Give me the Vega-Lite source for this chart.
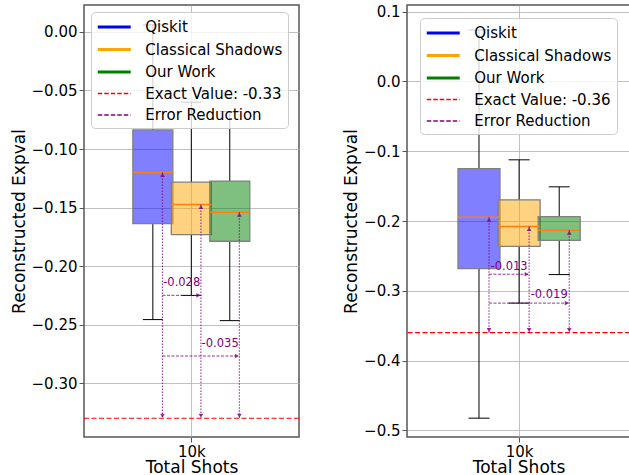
{
  "$schema": "https://vega.github.io/schema/vega-lite/v6.json",
  "padding": {"left": 9, "top": 3, "right": 0, "bottom": 0},
  "spacing": 108,
  "bounds": "flush",
  "datasets": {
    "lbox": [
      {"series": "Qiskit", "pos": -1, "ax": -0.75, "lo": -0.2457, "q1": -0.1637, "med": -0.12, "q3": -0.0837, "hi": 0.006},
      {"series": "Classical Shadows", "pos": 0, "ax": 0.25, "lo": -0.2251, "q1": -0.1731, "med": -0.1474, "q3": -0.1283, "hi": -0.06},
      {"series": "Our Work", "pos": 1, "ax": 1.25, "lo": -0.2466, "q1": -0.1788, "med": -0.154, "q3": -0.1274, "hi": -0.068}
    ],
    "lexact": [{"series": "Exact Value: -0.33", "value": -0.33}],
    "larrows": [
      {"label": "-0.028", "x1": -0.75, "x2": 0.25, "y": -0.225, "tx": -0.25, "ty": -0.2144},
      {"label": "-0.035", "x1": -0.75, "x2": 1.25, "y": -0.2768, "tx": 0.75, "ty": -0.2664}
    ],
    "rbox": [
      {"series": "Qiskit", "pos": -1, "ax": -0.75, "lo": -0.4826, "q1": -0.2682, "med": -0.1947, "q3": -0.1248, "hi": 0.0738},
      {"series": "Classical Shadows", "pos": 0, "ax": 0.25, "lo": -0.3177, "q1": -0.2363, "med": -0.208, "q3": -0.1697, "hi": -0.1123},
      {"series": "Our Work", "pos": 1, "ax": 1.25, "lo": -0.2768, "q1": -0.2277, "med": -0.2133, "q3": -0.1937, "hi": -0.151}
    ],
    "rexact": [{"series": "Exact Value: -0.36", "value": -0.36}],
    "rarrows": [
      {"label": "-0.013", "x1": -0.75, "x2": 0.25, "y": -0.2763, "tx": -0.25, "ty": -0.2663},
      {"label": "-0.019", "x1": -0.75, "x2": 1.25, "y": -0.3177, "tx": 0.75, "ty": -0.3067}
    ]
  },
  "hconcat": [
    {
      "width": 215,
      "height": 432,
      "layer": [
        {
          "data": {"name": "lbox"},
          "mark": {"type": "rule", "color": "black", "strokeWidth": 1},
          "encoding": {
            "x": {"field": "pos", "type": "quantitative", "scale": {"domain": [-2.66, 2.67], "nice": false, "zero": false}, "axis": {"values": [0], "labelExpr": "'10k'", "title": "Total Shots", "grid": true, "labelPadding": 2, "titlePadding": 0}},
            "y": {"field": "lo", "type": "quantitative", "scale": {"domain": [-0.346, 0.023], "nice": false, "zero": false}, "axis": {"values": [0, -0.05, -0.1, -0.15, -0.2, -0.25, -0.3], "format": ".2f", "title": "Reconstructed Expval", "grid": true}},
            "y2": {"field": "q1"}
          }
        },
        {
          "data": {"name": "lbox"},
          "mark": {"type": "rule", "color": "black", "strokeWidth": 1},
          "encoding": {
            "x": {"field": "pos", "type": "quantitative"},
            "y": {"field": "q3", "type": "quantitative"},
            "y2": {"field": "hi"}
          }
        },
        {
          "data": {"name": "lbox"},
          "mark": {"type": "tick", "orient": "horizontal", "size": 20, "thickness": 1, "color": "black", "opacity": 1},
          "encoding": {
            "x": {"field": "pos", "type": "quantitative"},
            "y": {"field": "lo", "type": "quantitative"}
          }
        },
        {
          "data": {"name": "lbox"},
          "mark": {"type": "tick", "orient": "horizontal", "size": 20, "thickness": 1, "color": "black", "opacity": 1},
          "encoding": {
            "x": {"field": "pos", "type": "quantitative"},
            "y": {"field": "hi", "type": "quantitative"}
          }
        },
        {
          "data": {"name": "lbox"},
          "mark": {"type": "bar", "size": 40, "fillOpacity": 0.5, "stroke": "#808080", "strokeWidth": 1.3},
          "encoding": {
            "x": {"field": "pos", "type": "quantitative"},
            "y": {"field": "q1", "type": "quantitative"},
            "y2": {"field": "q3"},
            "fill": {"field": "series", "type": "nominal", "scale": {"domain": ["Qiskit", "Classical Shadows", "Our Work"], "range": ["#0000ff", "#ffa500", "#008000"]}, "legend": null}
          }
        },
        {
          "data": {"name": "lbox"},
          "mark": {"type": "tick", "orient": "horizontal", "size": 40, "thickness": 1.5, "color": "#ff7f0e", "opacity": 1},
          "encoding": {
            "x": {"field": "pos", "type": "quantitative"},
            "y": {"field": "med", "type": "quantitative"}
          }
        },
        {
          "data": {"name": "lexact"},
          "mark": {"type": "rule", "color": "#ff0000", "strokeDash": [5, 2.5], "strokeWidth": 1.2},
          "encoding": {
            "y": {"field": "value", "type": "quantitative"}
          }
        },
        {
          "data": {"name": "lbox"},
          "mark": {"type": "rule", "color": "#800080", "strokeDash": [1.5, 1.5], "strokeWidth": 1.2, "opacity": 0.75},
          "encoding": {
            "x": {"field": "ax", "type": "quantitative"},
            "y": {"field": "med", "type": "quantitative"},
            "y2": {"datum": -0.33}
          }
        },
        {
          "data": {"name": "lbox"},
          "mark": {"type": "point", "shape": "triangle-up", "size": 22, "filled": true, "color": "#800080", "opacity": 0.8, "yOffset": 2.5},
          "encoding": {
            "x": {"field": "ax", "type": "quantitative"},
            "y": {"field": "med", "type": "quantitative"}
          }
        },
        {
          "data": {"name": "lbox"},
          "mark": {"type": "point", "shape": "triangle-down", "size": 22, "filled": true, "color": "#800080", "opacity": 0.8, "yOffset": -2.5},
          "encoding": {
            "x": {"field": "ax", "type": "quantitative"},
            "y": {"datum": -0.33, "type": "quantitative"}
          }
        },
        {
          "data": {"name": "larrows"},
          "mark": {"type": "rule", "color": "#800080", "strokeDash": [3, 1.5], "strokeWidth": 1, "opacity": 0.8},
          "encoding": {
            "x": {"field": "x1", "type": "quantitative"},
            "x2": {"field": "x2"},
            "y": {"field": "y", "type": "quantitative"}
          }
        },
        {
          "data": {"name": "larrows"},
          "mark": {"type": "point", "shape": "triangle-right", "size": 22, "filled": true, "color": "#800080", "opacity": 0.8, "xOffset": -2.5},
          "encoding": {
            "x": {"field": "x2", "type": "quantitative"},
            "y": {"field": "y", "type": "quantitative"}
          }
        },
        {
          "data": {"name": "larrows"},
          "mark": {"type": "text", "color": "#800080", "fontSize": 11.5, "font": "DejaVu Sans", "align": "center", "baseline": "middle"},
          "encoding": {
            "x": {"field": "tx", "type": "quantitative"},
            "y": {"field": "ty", "type": "quantitative"},
            "text": {"field": "label"}
          }
        },
        {
          "data": {"name": "lbox"},
          "mark": {"type": "rule", "strokeWidth": 3},
          "encoding": {
            "x": {"field": "pos", "type": "quantitative"},
            "y": {"field": "med", "type": "quantitative"},
            "y2": {"field": "med"},
            "color": {
              "field": "series", "type": "nominal",
              "scale": {"domain": ["Qiskit", "Classical Shadows", "Our Work", "Exact Value: -0.33", "Error Reduction"], "range": ["#0000ff", "#ffa500", "#008000", "#ff0000", "#800080"]},
              "legend": {
                "title": null, "orient": "none", "legendX": 7, "legendY": 7,
                "symbolType": "M-2,0H2", "symbolSize": 272, "symbolOffset": 8.25, "labelOffset": 21,
                "labelFont": "DejaVu Sans", "labelFontSize": 15, "labelColor": "black", "labelLimit": 300,
                "padding": 5, "rowPadding": 4.5,
                "fillColor": "rgba(255,255,255,0.8)", "strokeColor": "#cccccc", "cornerRadius": 4
              }
            },
            "strokeDash": {
              "field": "series", "type": "nominal",
              "scale": {"domain": ["Qiskit", "Classical Shadows", "Our Work", "Exact Value: -0.33", "Error Reduction"], "range": [[1, 0], [1, 0], [1, 0], [4.5, 2], [4.5, 2]]}
            },
            "strokeWidth": {
              "field": "series", "type": "nominal",
              "scale": {"type": "ordinal", "domain": ["Qiskit", "Classical Shadows", "Our Work", "Exact Value: -0.33", "Error Reduction"], "range": [3, 3, 3, 1.5, 1.5]}
            }
          }
        }
      ]
    },
    {
      "width": 223,
      "height": 432,
      "layer": [
        {
          "data": {"name": "rbox"},
          "mark": {"type": "rule", "color": "black", "strokeWidth": 1},
          "encoding": {
            "x": {"field": "pos", "type": "quantitative", "scale": {"domain": [-2.67, 2.64], "nice": false, "zero": false}, "axis": {"values": [0], "labelExpr": "'10k'", "title": "Total Shots", "grid": true, "labelPadding": 2, "titlePadding": 0}},
            "y": {"field": "lo", "type": "quantitative", "scale": {"domain": [-0.5096, 0.1096], "nice": false, "zero": false}, "axis": {"values": [0.1, 0, -0.1, -0.2, -0.3, -0.4, -0.5], "format": ".1f", "title": "Reconstructed Expval", "grid": true}},
            "y2": {"field": "q1"}
          }
        },
        {
          "data": {"name": "rbox"},
          "mark": {"type": "rule", "color": "black", "strokeWidth": 1},
          "encoding": {
            "x": {"field": "pos", "type": "quantitative"},
            "y": {"field": "q3", "type": "quantitative"},
            "y2": {"field": "hi"}
          }
        },
        {
          "data": {"name": "rbox"},
          "mark": {"type": "tick", "orient": "horizontal", "size": 21, "thickness": 1, "color": "black", "opacity": 1},
          "encoding": {
            "x": {"field": "pos", "type": "quantitative"},
            "y": {"field": "lo", "type": "quantitative"}
          }
        },
        {
          "data": {"name": "rbox"},
          "mark": {"type": "tick", "orient": "horizontal", "size": 21, "thickness": 1, "color": "black", "opacity": 1},
          "encoding": {
            "x": {"field": "pos", "type": "quantitative"},
            "y": {"field": "hi", "type": "quantitative"}
          }
        },
        {
          "data": {"name": "rbox"},
          "mark": {"type": "bar", "size": 42, "fillOpacity": 0.5, "stroke": "#808080", "strokeWidth": 1.3},
          "encoding": {
            "x": {"field": "pos", "type": "quantitative"},
            "y": {"field": "q1", "type": "quantitative"},
            "y2": {"field": "q3"},
            "fill": {"field": "series", "type": "nominal", "scale": {"domain": ["Qiskit", "Classical Shadows", "Our Work"], "range": ["#0000ff", "#ffa500", "#008000"]}, "legend": null}
          }
        },
        {
          "data": {"name": "rbox"},
          "mark": {"type": "tick", "orient": "horizontal", "size": 42, "thickness": 1.5, "color": "#ff7f0e", "opacity": 1},
          "encoding": {
            "x": {"field": "pos", "type": "quantitative"},
            "y": {"field": "med", "type": "quantitative"}
          }
        },
        {
          "data": {"name": "rexact"},
          "mark": {"type": "rule", "color": "#ff0000", "strokeDash": [5, 2.5], "strokeWidth": 1.2},
          "encoding": {
            "y": {"field": "value", "type": "quantitative"}
          }
        },
        {
          "data": {"name": "rbox"},
          "mark": {"type": "rule", "color": "#800080", "strokeDash": [1.5, 1.5], "strokeWidth": 1.2, "opacity": 0.75},
          "encoding": {
            "x": {"field": "ax", "type": "quantitative"},
            "y": {"field": "med", "type": "quantitative"},
            "y2": {"datum": -0.36}
          }
        },
        {
          "data": {"name": "rbox"},
          "mark": {"type": "point", "shape": "triangle-up", "size": 22, "filled": true, "color": "#800080", "opacity": 0.8, "yOffset": 2.5},
          "encoding": {
            "x": {"field": "ax", "type": "quantitative"},
            "y": {"field": "med", "type": "quantitative"}
          }
        },
        {
          "data": {"name": "rbox"},
          "mark": {"type": "point", "shape": "triangle-down", "size": 22, "filled": true, "color": "#800080", "opacity": 0.8, "yOffset": -2.5},
          "encoding": {
            "x": {"field": "ax", "type": "quantitative"},
            "y": {"datum": -0.36, "type": "quantitative"}
          }
        },
        {
          "data": {"name": "rarrows"},
          "mark": {"type": "rule", "color": "#800080", "strokeDash": [3, 1.5], "strokeWidth": 1, "opacity": 0.8},
          "encoding": {
            "x": {"field": "x1", "type": "quantitative"},
            "x2": {"field": "x2"},
            "y": {"field": "y", "type": "quantitative"}
          }
        },
        {
          "data": {"name": "rarrows"},
          "mark": {"type": "point", "shape": "triangle-right", "size": 22, "filled": true, "color": "#800080", "opacity": 0.8, "xOffset": -2.5},
          "encoding": {
            "x": {"field": "x2", "type": "quantitative"},
            "y": {"field": "y", "type": "quantitative"}
          }
        },
        {
          "data": {"name": "rarrows"},
          "mark": {"type": "text", "color": "#800080", "fontSize": 11.5, "font": "DejaVu Sans", "align": "center", "baseline": "middle"},
          "encoding": {
            "x": {"field": "tx", "type": "quantitative"},
            "y": {"field": "ty", "type": "quantitative"},
            "text": {"field": "label"}
          }
        },
        {
          "data": {"name": "rbox"},
          "mark": {"type": "rule", "strokeWidth": 3},
          "encoding": {
            "x": {"field": "pos", "type": "quantitative"},
            "y": {"field": "med", "type": "quantitative"},
            "y2": {"field": "med"},
            "color": {
              "field": "series", "type": "nominal",
              "scale": {"domain": ["Qiskit", "Classical Shadows", "Our Work", "Exact Value: -0.36", "Error Reduction"], "range": ["#0000ff", "#ffa500", "#008000", "#ff0000", "#800080"]},
              "legend": {
                "title": null, "orient": "none", "legendX": 13, "legendY": 13,
                "symbolType": "M-2,0H2", "symbolSize": 272, "symbolOffset": 8.25, "labelOffset": 21,
                "labelFont": "DejaVu Sans", "labelFontSize": 15, "labelColor": "black", "labelLimit": 300,
                "padding": 5, "rowPadding": 4.5,
                "fillColor": "rgba(255,255,255,0.8)", "strokeColor": "#cccccc", "cornerRadius": 4
              }
            },
            "strokeDash": {
              "field": "series", "type": "nominal",
              "scale": {"domain": ["Qiskit", "Classical Shadows", "Our Work", "Exact Value: -0.36", "Error Reduction"], "range": [[1, 0], [1, 0], [1, 0], [4.5, 2], [4.5, 2]]}
            },
            "strokeWidth": {
              "field": "series", "type": "nominal",
              "scale": {"type": "ordinal", "domain": ["Qiskit", "Classical Shadows", "Our Work", "Exact Value: -0.36", "Error Reduction"], "range": [3, 3, 3, 1.5, 1.5]}
            }
          }
        }
      ]
    }
  ],
  "resolve": {
    "scale": {"color": "independent", "fill": "independent", "strokeDash": "independent", "strokeWidth": "independent", "x": "independent", "y": "independent"},
    "legend": {"color": "independent", "strokeDash": "independent", "strokeWidth": "independent"}
  },
  "config": {
    "font": "DejaVu Sans",
    "view": {"stroke": "#555555", "strokeWidth": 1.5},
    "axis": {
      "labelFont": "DejaVu Sans", "labelFontSize": 15, "labelColor": "#000000",
      "titleFont": "DejaVu Sans", "titleFontSize": 17, "titleFontWeight": "normal", "titleColor": "#000000",
      "tickColor": "#555555", "tickSize": 5, "domain": false,
      "gridColor": "#b0b0b0", "gridOpacity": 0.8, "gridWidth": 1,
      "labelPadding": 2, "titlePadding": 3
    }
  }
}
